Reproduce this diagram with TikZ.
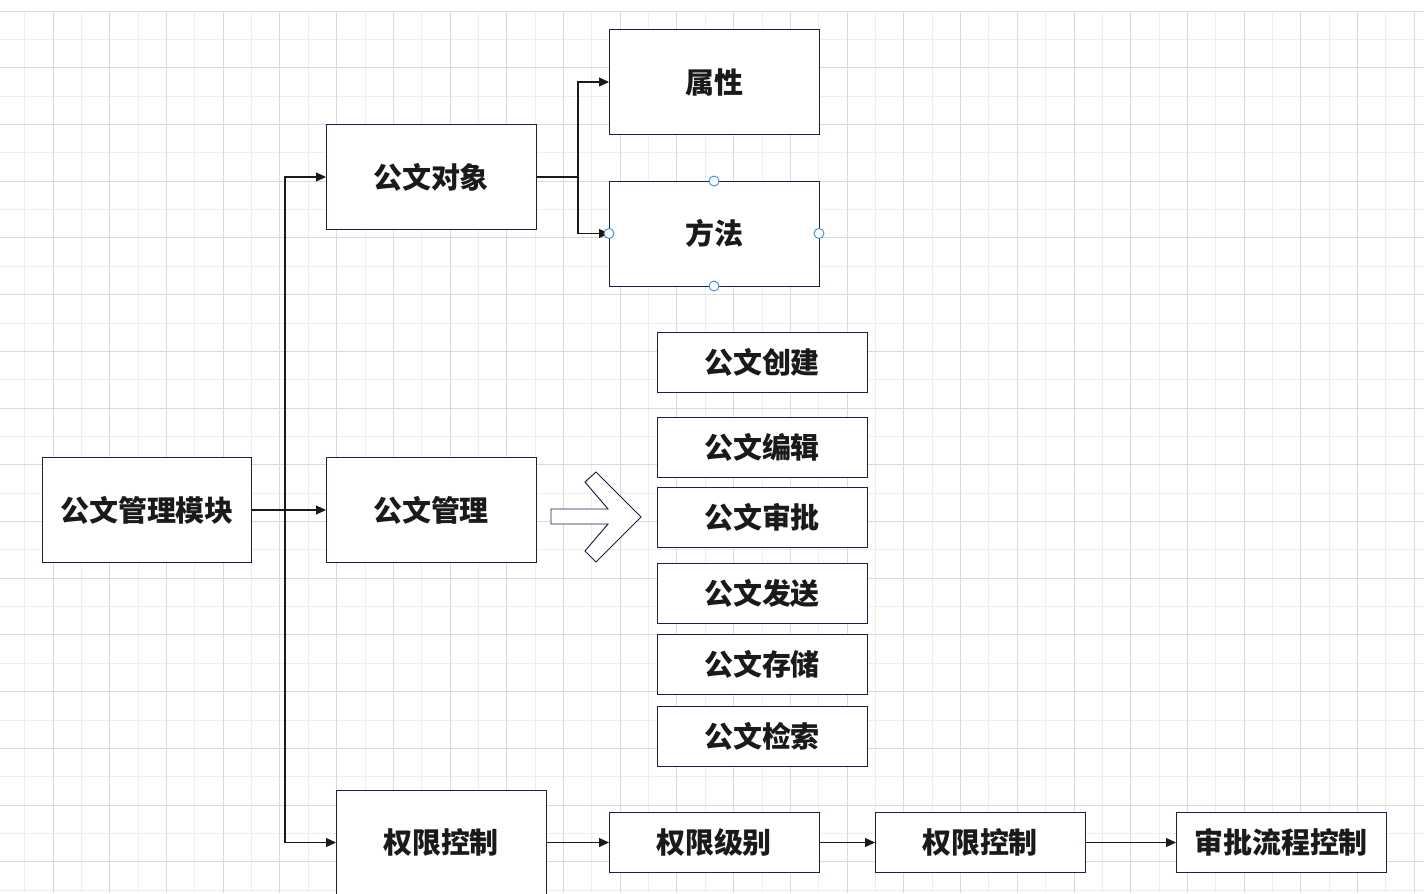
\documentclass[tikz,border=0pt]{standalone}
\usepackage{fontspec}
\newfontfamily\cjk{Noto Sans CJK SC}
\usetikzlibrary{arrows.meta}
\definecolor{boxline}{HTML}{1B1F4A}
\definecolor{wire}{HTML}{1A1A1A}
\definecolor{gridminor}{HTML}{EEEEEE}
\definecolor{gridmajor}{HTML}{DADADA}
\definecolor{handle}{HTML}{2D8CF0}

\begin{document}
\begin{tikzpicture}[x=0.02cm, y=-0.02cm,
  box/.style={draw=boxline, line width=0.55pt, fill=white, minimum width=4.2cm, minimum height=2.1cm,
    inner sep=0pt, outer sep=0pt, text=wire, font=\cjk\bfseries\fontsize{16.5}{20}\selectfont},
  smallbox/.style={box, minimum height=1.2cm},
  link/.style={draw=wire, line width=0.6pt, -{Triangle[length=2mm, width=1.8mm]}},
  handledot/.style={circle, draw=handle, fill=white, line width=0.5pt, minimum size=0.2cm, inner sep=0pt}]
	\useasboundingbox (0,0) rectangle (1424,893);
	% background grid
	\foreach \gx in {0,...,49} \draw[gridminor, line width=0.5pt] ({24.64+28.36*\gx},11) -- ({24.64+28.36*\gx},893);
	\foreach \gy in {0,...,31} \draw[gridminor, line width=0.5pt] (0,{11+28.36*\gy}) -- (1424,{11+28.36*\gy});
	\foreach \gx in {0,...,24} \draw[gridmajor, line width=0.5pt] ({53+56.72*\gx},11) -- ({53+56.72*\gx},893);
	\foreach \gy in {0,...,15} \draw[gridmajor, line width=0.5pt] (0,{11+56.72*\gy}) -- (1424,{11+56.72*\gy});

	% main tree
	\node[box] (root) at (147,510) {公文管理模块};
	\node[box] (obj) at (431,177) {公文对象};
	\node[box] (mgmt) at (431,510) {公文管理};
	\node[box] (perm) at (441,842.5) {权限控制};
	\coordinate (split) at (285,510);
	\draw[wire, line width=0.6pt] (root.east) -- (split);
	\draw[link] (split) |- (obj.west);
	\draw[link] (split) -- (mgmt.west);
	\draw[link] (split) |- (perm.west);

	% object branch
	\node[box] (attr) at (714,82) {属性};
	\node[box] (meth) at (714,233.5) {方法};
	\coordinate (fork) at (578,177);
	\draw[wire, line width=0.6pt] (obj.east) -- (fork);
	\draw[link] (fork) |- (attr.west);
	\draw[link] (fork) |- (meth.west);
	\node[handledot] (hn) at (meth.north) {};
	\node[handledot] (hs) at (meth.south) {};
	\node[handledot] (hw) at (meth.west) {};
	\node[handledot] (he) at (meth.east) {};

	% management list
	\draw[boxline, fill=white, line width=0.55pt] (551,509) -- (608,509) -- (585,482) -- (596,472) -- (641,517)
	   -- (596,562) -- (585,551) -- (608,524) -- (551,524) -- cycle;
	\node[smallbox] (create) at (762,362) {公文创建};
	\node[smallbox] (edit) at (762,447) {公文编辑};
	\node[smallbox] (approve) at (762,517) {公文审批};
	\node[smallbox] (send) at (762,593) {公文发送};
	\node[smallbox] (store) at (762,664) {公文存储};
	\node[smallbox] (search) at (762,736) {公文检索};

	% permission chain
	\node[smallbox] (level) at (714,842.5) {权限级别};
	\node[smallbox] (ctrl) at (980,842.5) {权限控制};
	\node[smallbox] (flow) at (1281,842.5) {审批流程控制};
	\draw[link] (perm.east) -- (level.west);
	\draw[link] (level.east) -- (ctrl.west);
	\draw[link] (ctrl.east) -- (flow.west);
\end{tikzpicture}
\end{document}
